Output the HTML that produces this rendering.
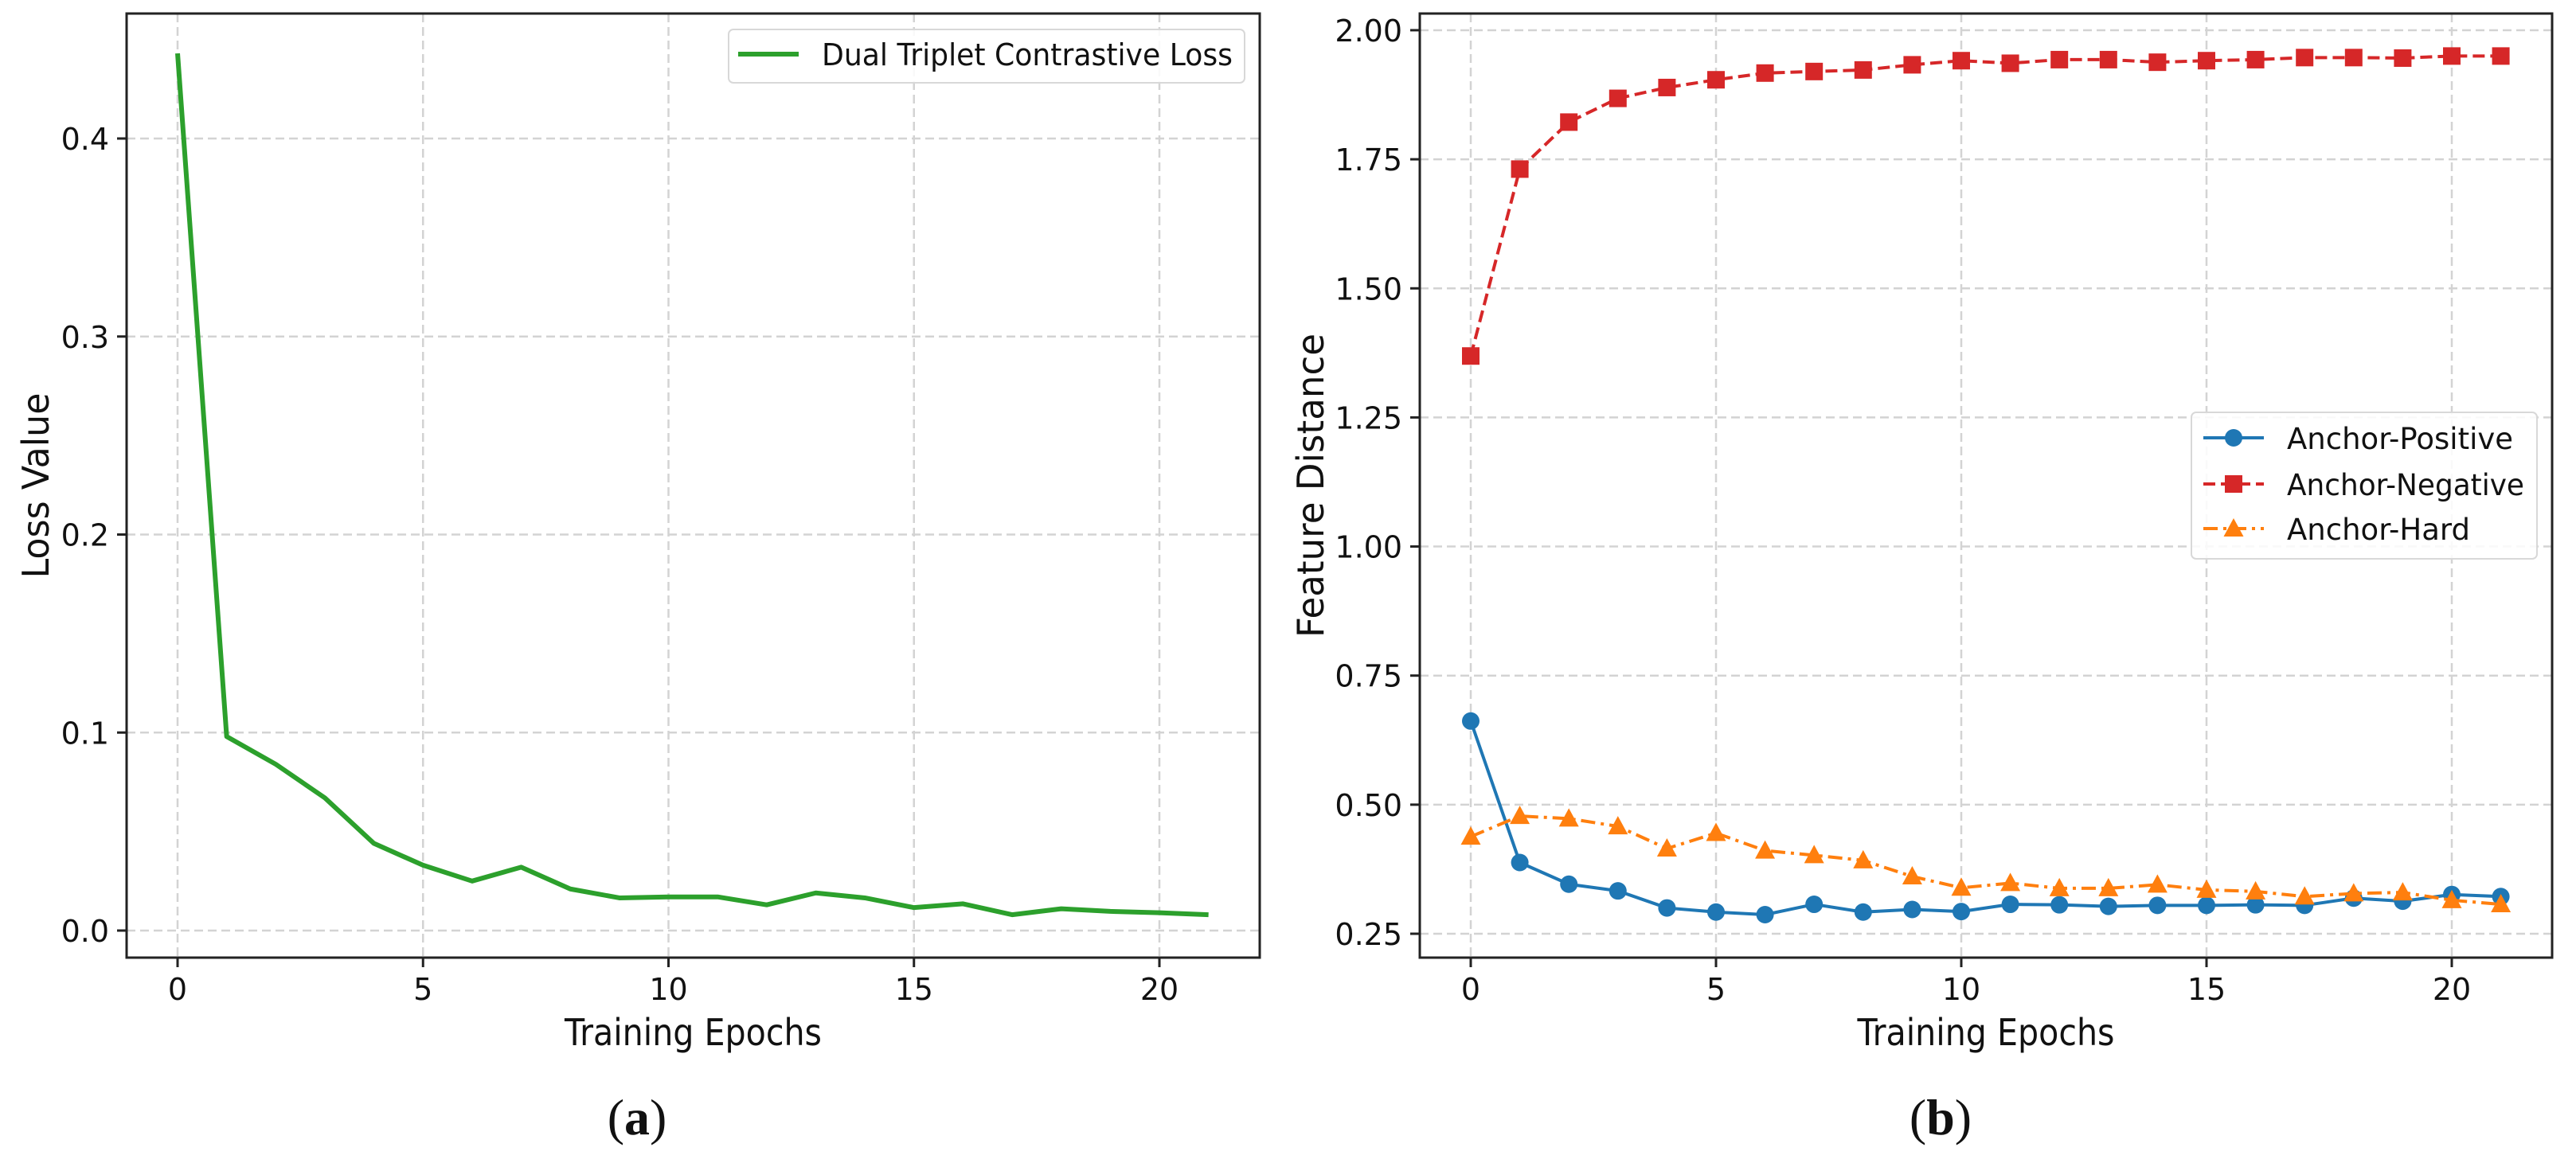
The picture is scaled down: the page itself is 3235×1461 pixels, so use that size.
<!DOCTYPE html>
<html><head><meta charset="utf-8"><style>
html,body{margin:0;padding:0;background:#fff;}
svg{display:block;font-family:"DejaVu Sans","Liberation Sans",sans-serif;}
</style></head><body>
<svg id="fig" width="3235" height="1461" viewBox="0 0 3235 1461" xmlns="http://www.w3.org/2000/svg">
<rect width="3235" height="1461" fill="#fff"/>
<g id="pa"></g>
<g id="pb"></g>
</svg>
<script>
const epochs = [0,1,2,3,4,5,6,7,8,9,10,11,12,13,14,15,16,17,18,19,20,21];
const lossValues = [0.443,0.098,0.084,0.067,0.044,0.033,0.025,0.032,0.021,0.0165,0.017,0.017,0.013,0.019,0.0165,0.0116,0.0135,0.008,0.011,0.0097,0.009,0.008];
const anchorPositive = [0.662,0.388,0.346,0.333,0.300,0.292,0.287,0.307,0.292,0.297,0.293,0.307,0.306,0.303,0.305,0.305,0.306,0.305,0.319,0.313,0.326,0.322];
const anchorNegative = [1.369,1.731,1.822,1.868,1.889,1.904,1.917,1.920,1.923,1.933,1.941,1.936,1.943,1.943,1.938,1.941,1.943,1.947,1.947,1.946,1.950,1.950];
const anchorHard = [0.438,0.478,0.473,0.458,0.415,0.445,0.411,0.402,0.392,0.361,0.339,0.348,0.338,0.338,0.345,0.335,0.332,0.322,0.328,0.330,0.315,0.307];
const xTicks = [0,5,10,15,20];
const yTicksA = [0.0,0.1,0.2,0.3,0.4];
const yTickLabelsA = ["0.0","0.1","0.2","0.3","0.4"];
const yTicksB = [0.25,0.5,0.75,1.0,1.25,1.5,1.75,2.0];
const yTickLabelsB = ["0.25","0.50","0.75","1.00","1.25","1.50","1.75","2.00"];

const NS="http://www.w3.org/2000/svg";
function mk(parent,tag,attrs,text){const e=document.createElementNS(NS,tag);for(const k in attrs)e.setAttribute(k,attrs[k]);if(text!==undefined)e.textContent=text;parent.appendChild(e);return e;}

function panel(g,box,xs,ys,yTicks,yLabels){
  const {l,r,t,b}=box;
  xTicks.forEach(v=>{const e=mk(g,'line',{x1:xs(v),x2:xs(v),y1:t,y2:b,stroke:'#d3d3d3','stroke-width':2.5,'stroke-dasharray':'11,6'});
    
    });
  yTicks.forEach(v=>{const e=mk(g,'line',{x1:l,x2:r,y1:ys(v),y2:ys(v),stroke:'#d3d3d3','stroke-width':2.5,'stroke-dasharray':'11,6'});
    
    });
  xTicks.forEach(v=>{mk(g,'line',{x1:xs(v),x2:xs(v),y1:b,y2:b+12,stroke:'#222','stroke-width':3});
    const e=mk(g,'text',{x:xs(v),y:b+53,'text-anchor':'middle','font-size':38,fill:'#111'},String(v));
    
    });
  yTicks.forEach((v,i)=>{mk(g,'line',{x1:l-12,x2:l,y1:ys(v),y2:ys(v),stroke:'#222','stroke-width':3});
    const e=mk(g,'text',{x:l-22,y:ys(v)+14,'text-anchor':'end','font-size':38,fill:'#111'},yLabels[i]);
    
    });
  const xt=mk(g,'text',{x:(l+r)/2,y:1313,'text-anchor':'middle','font-size':46,fill:'#111',textLength:323,lengthAdjust:'spacingAndGlyphs'},'Training Epochs');
  
  
}
function frame(g,box){const e=mk(g,'rect',{x:box.l,y:box.t,width:box.r-box.l,height:box.b-box.t,fill:'none',stroke:'#222','stroke-width':3});
  
  }
function pts(xs,ys,arr){return arr.map((v,i)=>xs(epochs[i])+','+ys(v)).join(' ');}

// Panel A
const ga=document.getElementById('pa');
const boxA={l:159,r:1582,t:17,b:1203};
const xsA=v=>223+v*61.65;
const ysA=v=>1169-v*2487.5;
panel(ga,boxA,xsA,ysA,yTicksA,yTickLabelsA);
const yla=mk(ga,'text',{transform:'translate(61,610) rotate(-90)','text-anchor':'middle','font-size':46,fill:'#111',textLength:233,lengthAdjust:'spacingAndGlyphs'},'Loss Value');


const la=mk(ga,'polyline',{points:pts(xsA,ysA,lossValues),fill:'none',stroke:'#2ca02c','stroke-width':6,'stroke-linejoin':'round'});


frame(ga,boxA);
const lega=mk(ga,'g',{});


mk(lega,'rect',{x:915,y:37,width:648,height:67,rx:6,fill:'#fff','fill-opacity':0.85,stroke:'#d8d8d8','stroke-width':2});
mk(lega,'line',{x1:927,x2:1003,y1:68,y2:68,stroke:'#2ca02c','stroke-width':6});
mk(lega,'text',{x:1032,y:82,'font-size':38,fill:'#111',textLength:516,lengthAdjust:'spacingAndGlyphs'},'Dual Triplet Contrastive Loss');
const ca=mk(ga,'text',{x:800,y:1425,'text-anchor':'middle','font-size':64,fill:'#111','font-family':'"Liberation Serif",serif'});


ca.innerHTML='(<tspan font-weight="bold">a</tspan>)';

// Panel B
const gb=document.getElementById('pb');
const boxB={l:1783,r:3205,t:17,b:1203};
const xsB=v=>1847+v*61.6;
const ysB=v=>1173-(v-0.25)*648.6;
panel(gb,boxB,xsB,ysB,yTicksB,yTickLabelsB);
const ylb=mk(gb,'text',{transform:'translate(1662,610) rotate(-90)','text-anchor':'middle','font-size':46,fill:'#111',textLength:382,lengthAdjust:'spacingAndGlyphs'},'Feature Distance');



function drawMarker(p,m,x,y,c){
  if(m==='o')mk(p,'circle',{cx:x,cy:y,r:11,fill:c});
  else if(m==='s')mk(p,'rect',{x:x-11,y:y-11,width:22,height:22,fill:c});
  else mk(p,'polygon',{points:`${x},${y-13} ${x+12.5},${y+10} ${x-12.5},${y+10}`,fill:c});
}
function series(arr,color,dash,marker,name){
  const s=mk(gb,'g',{});
  
  
  const a={points:pts(xsB,ysB,arr),fill:'none',stroke:color,'stroke-width':4,'stroke-linejoin':'round'};
  if(dash)a['stroke-dasharray']=dash;
  mk(s,'polyline',a);
  arr.forEach((v,i)=>{drawMarker(s,marker,xsB(epochs[i]),ysB(v),color);});
}
series(anchorPositive,'#1f77b4',null,'o','anchor-positive-series');
series(anchorNegative,'#d62728','15,7','s','anchor-negative-series');
series(anchorHard,'#ff7f0e','18,7,4,7','^','anchor-hard-series');
frame(gb,boxB);
const legb=mk(gb,'g',{});


mk(legb,'rect',{x:2752,y:518,width:434,height:184,rx:6,fill:'#fff','fill-opacity':0.85,stroke:'#d8d8d8','stroke-width':2});
const legItems=[['Anchor-Positive','#1f77b4',null,'o',550],['Anchor-Negative','#d62728','15,7','s',608],['Anchor-Hard','#ff7f0e','18,7,4,7','^',664]];
legItems.forEach(it=>{
  const a={x1:2767,x2:2843,y1:it[4],y2:it[4],stroke:it[1],'stroke-width':4};
  if(it[2])a['stroke-dasharray']=it[2];
  mk(legb,'line',a);
  drawMarker(legb,it[3],2805,it[4],it[1]);
  const ta={x:2872,y:it[4]+14,'font-size':37,fill:'#111'};
  if(it[0]==='Anchor-Negative'){ta.textLength=298;ta.lengthAdjust='spacingAndGlyphs';}
  mk(legb,'text',ta,it[0]);
});
const cb=mk(gb,'text',{x:2437,y:1425,'text-anchor':'middle','font-size':64,fill:'#111','font-family':'"Liberation Serif",serif'});


cb.innerHTML='(<tspan font-weight="bold">b</tspan>)';
</script>
</body></html>
